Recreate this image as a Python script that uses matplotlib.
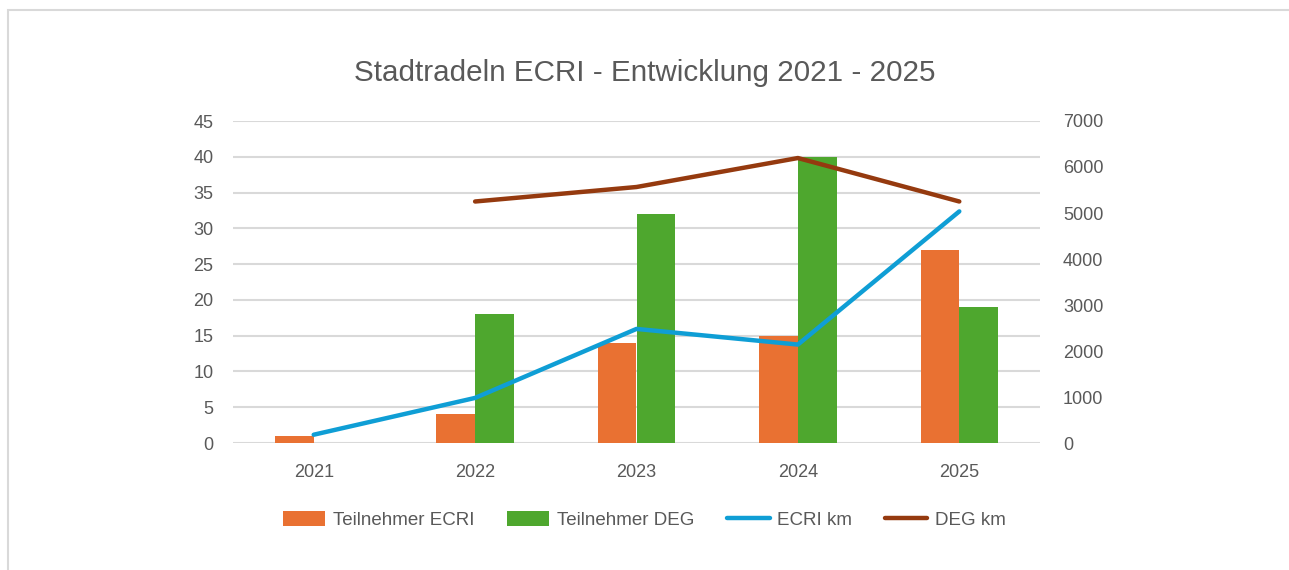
import matplotlib.pyplot as plt
from matplotlib.patches import Rectangle
import numpy as np

years = ['2021', '2022', '2023', '2024', '2025']
teiln_ecri = [1, 4, 14, 15, 27]
teiln_deg = [0, 18, 32, 40, 19]
ecri_km = [180, 980, 2480, 2140, 5035]
deg_km = [np.nan, 5250, 5565, 6195, 5250]

c_orange = '#E97132'
c_green = '#4EA72E'
c_blue = '#0F9ED5'
c_brown = '#953A0F'
c_text = '#595959'
c_grid = '#D9D9D9'

plt.rcParams['font.family'] = ['Liberation Sans', 'DejaVu Sans']

fig = plt.figure(figsize=(12.89, 5.7), dpi=100)
fig.patches.append(Rectangle((8 / 1289, -0.01), 1.0, 1.01 - 10 / 570, transform=fig.transFigure,
                             facecolor='white', edgecolor='#D9D9D9', lw=1.5, zorder=-10))

ax1 = fig.add_axes([233 / 1289, 127 / 570, (1040 - 233) / 1289, (443 - 121) / 570])
ax1.patch.set_alpha(0)
x = np.arange(len(years))
w = 0.24
ax1.bar(x - w / 2, teiln_ecri, w, color=c_orange, label='Teilnehmer ECRI', zorder=2)
ax1.bar(x + w / 2, teiln_deg, w, color=c_green, label='Teilnehmer DEG', zorder=2)
ax1.set_ylim(0, 45)
ax1.set_yticks(range(0, 46, 5))
ax1.set_xlim(-0.5, 4.5)
ax1.set_xticks(x)
ax1.set_xticklabels(years)
ax1.yaxis.grid(True, color=c_grid, lw=1.5, zorder=0)
ax1.set_axisbelow(True)
for s in ax1.spines.values():
    s.set_visible(False)
ax1.tick_params(length=0, labelsize=13, colors=c_text)
ax1.tick_params(axis='x', pad=15)
ax1.tick_params(axis='y', pad=14)

ax2 = ax1.twinx()
ax2.plot(x, ecri_km, color=c_blue, lw=3.2, solid_capstyle='round', solid_joinstyle='round',
         label='ECRI km', zorder=3)
ax2.plot(x, deg_km, color=c_brown, lw=3.2, solid_capstyle='round', solid_joinstyle='round',
         label='DEG km', zorder=3)
ax2.set_ylim(0, 7000)
ax2.set_yticks(range(0, 7001, 1000))
for s in ax2.spines.values():
    s.set_visible(False)
ax2.tick_params(length=0, labelsize=13, colors=c_text, pad=16.5)

fig.text(0.5, 1 - 73 / 570, 'Stadtradeln ECRI - Entwicklung 2021 - 2025', ha='center',
         va='center', fontsize=21.3, color=c_text)

h1, l1 = ax1.get_legend_handles_labels()
h2, l2 = ax2.get_legend_handles_labels()
fig.legend(h1 + h2, l1 + l2, loc='center', bbox_to_anchor=(0.5, 1 - 520 / 570), ncol=4,
           frameon=False, fontsize=13.5, labelcolor=c_text, handlelength=2.25,
           handleheight=0.9, columnspacing=1.75, handletextpad=0.42)

fig.savefig('out.png', dpi=100)
